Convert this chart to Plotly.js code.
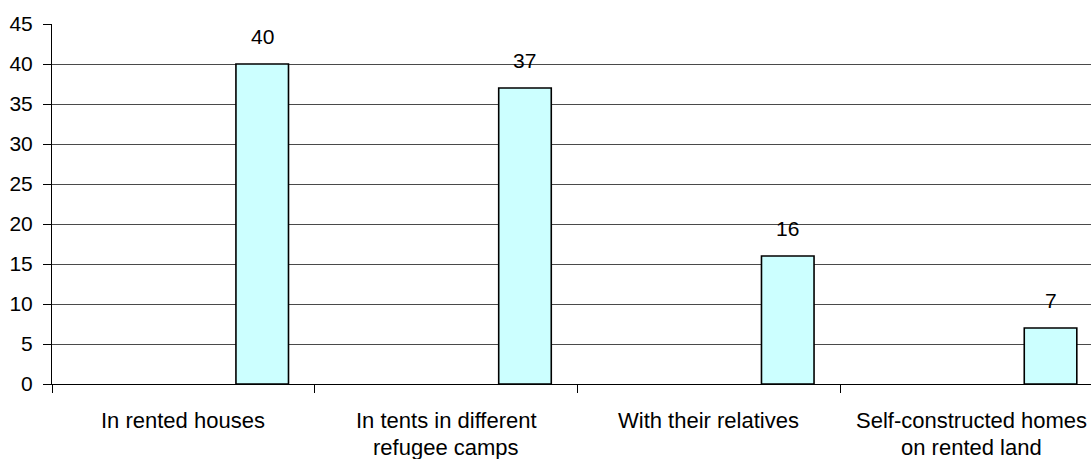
<!DOCTYPE html>
<html>
<head>
<meta charset="utf-8">
<script src="https://cdn.plot.ly/plotly-3.0.1.min.js"></script>
<style>
  html, body { margin: 0; padding: 0; background: #ffffff; }
  #chart { width: 1091px; height: 459px; }
</style>
</head>
<body>
<div id="chart"></div>
<script>
// Where the displaced households are living (share, %)
const categories = [
  "In rented houses",
  "In tents in different<br>refugee camps",
  "With their relatives",
  "Self-constructed homes<br>on rented land"
];
const shares = [40, 37, 16, 7];
const yTicks = [0, 5, 10, 15, 20, 25, 30, 35, 40, 45];

const FONT = "Liberation Sans, Arial, sans-serif";

// Bars sit in the right-hand part of each category slot
const BAR_OFFSET = 0.2;
const BAR_WIDTH = 0.2;

const bars = {
  type: "bar",
  x: categories,
  y: shares,
  offset: BAR_OFFSET,
  width: BAR_WIDTH,
  marker: {
    color: "#ccffff",
    line: { color: "#000000", width: 1.6 }
  },
  hoverinfo: "skip"
};

// Value labels floating above each bar
const valueLabels = shares.map((v, i) => ({
  x: i + BAR_OFFSET + BAR_WIDTH / 2,
  y: v,
  xref: "x",
  yref: "y",
  text: String(v),
  showarrow: false,
  yanchor: "bottom",
  yshift: 14,
  font: { family: FONT, size: 21, color: "#000000" }
}));

// Category names under the axis, one annotation per line
const LINE_SHIFTS = [-22, -49];
const categoryLabels = [];
categories.forEach((name, i) => {
  name.split("<br>").forEach((line, k) => {
    categoryLabels.push({
      x: i,
      y: 0,
      xref: "x",
      yref: "y",
      text: line,
      showarrow: false,
      xanchor: "center",
      yanchor: "top",
      yshift: LINE_SHIFTS[k],
      font: { family: FONT, size: 22, color: "#000000" }
    });
  });
});

const layout = {
  width: 1091,
  height: 459,
  margin: { l: 52, r: 0, t: 24, b: 75, pad: 0 },
  paper_bgcolor: "#ffffff",
  plot_bgcolor: "#ffffff",
  showlegend: false,
  bargap: 0,
  xaxis: {
    type: "category",
    range: [-0.5, 3.454],
    tickson: "boundaries",
    ticks: "outside",
    ticklen: 8,
    tickwidth: 1,
    tickcolor: "#000000",
    showticklabels: false,
    showline: true,
    linecolor: "#000000",
    linewidth: 1,
    showgrid: false,
    zeroline: false,
    fixedrange: true
  },
  yaxis: {
    range: [0, 45],
    tickvals: yTicks,
    ticktext: yTicks.map(String),
    ticks: "outside",
    ticklen: 8,
    tickwidth: 1,
    tickcolor: "#000000",
    ticklabelstandoff: 6,
    showline: true,
    linecolor: "#000000",
    linewidth: 1,
    showgrid: true,
    gridcolor: "#4a4a4a",
    gridwidth: 1,
    zeroline: false,
    tickfont: { family: FONT, size: 21, color: "#000000" },
    fixedrange: true
  },
  annotations: valueLabels.concat(categoryLabels)
};

Plotly.newPlot("chart", [bars], layout, { displayModeBar: false, staticPlot: true });
</script>
</body>
</html>
